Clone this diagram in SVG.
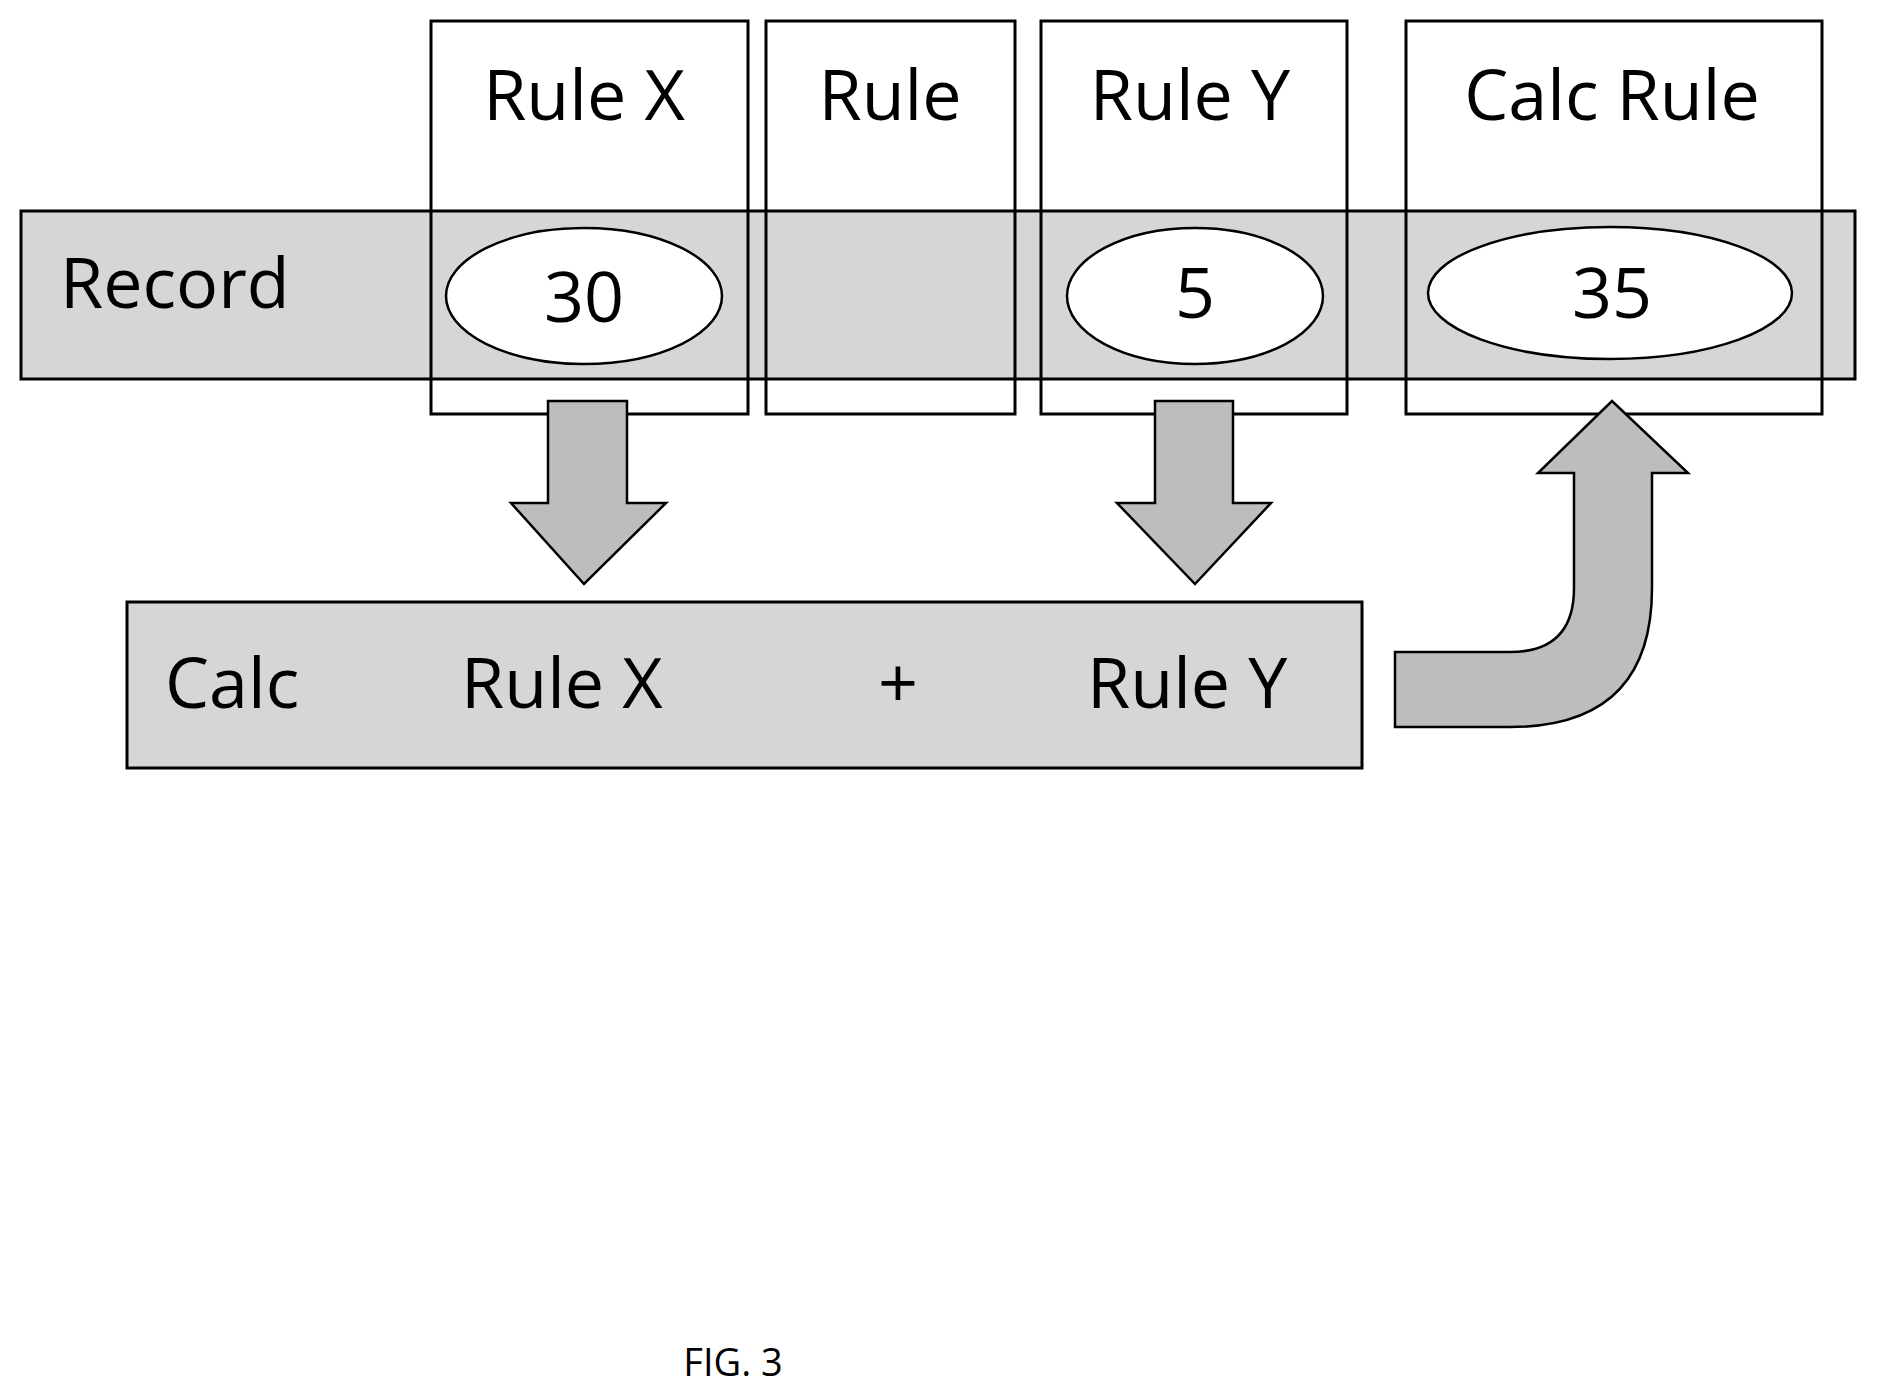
<svg xmlns="http://www.w3.org/2000/svg" width="1877" height="1399" viewBox="0 0 1877 1399">
<style>
.box{fill:none;stroke:#000;stroke-width:3}
.band{fill:#d6d6d6;stroke:#000;stroke-width:3}
.ell{fill:#fff;stroke:#000;stroke-width:2.5}
.arr{fill:#bdbdbd;stroke:#000;stroke-width:2.5}
text{font-family:"Open Sans","Liberation Sans",sans-serif;font-size:70px;fill:#000}
.c{text-anchor:middle}
</style>
<rect x="0" y="0" width="1877" height="1399" fill="#fff"/>
<g id="record"><rect class="band" x="21" y="211" width="1834" height="168"/><text x="60" y="308">Record</text></g>
<g id="ruleX"><rect class="box" x="431" y="21" width="317" height="393"/><text class="c" x="584" y="120">Rule X</text></g>
<g id="rule"><rect class="box" x="766" y="21" width="249" height="393"/><text class="c" x="890" y="120">Rule</text></g>
<g id="ruleY"><rect class="box" x="1041" y="21" width="306" height="393"/><text class="c" x="1190" y="120">Rule Y</text></g>
<g id="calcRule"><rect class="box" x="1406" y="21" width="416" height="393"/><text class="c" x="1612" y="120">Calc Rule</text></g>
<g id="v30"><ellipse class="ell" cx="584" cy="296" rx="138" ry="68"/><text class="c" x="584" y="322">30</text></g>
<g id="v5"><ellipse class="ell" cx="1195" cy="296" rx="128" ry="68"/><text class="c" x="1195" y="318">5</text></g>
<g id="v35"><ellipse class="ell" cx="1610" cy="293" rx="182" ry="66"/><text class="c" x="1612" y="318">35</text></g>
<g id="calc"><rect class="band" x="127" y="602" width="1235" height="166"/>
<text x="165" y="708">Calc</text><text x="461" y="708">Rule X</text><text class="c" x="898" y="708">+</text><text x="1087" y="708">Rule Y</text></g>
<g id="connectors">
<path class="arr" d="M548,401 H627 V503 H666 L584,584 L511,503 H548 Z"/>
<path class="arr" d="M1155,401 H1233 V503 H1271 L1195,584 L1117,503 H1155 Z"/>
<path class="arr" d="M1395,652 L1510,652 Q1574,652 1574,588 L1574,473 L1538,473 L1612,401 L1688,473 L1652,473 L1652,588 Q1652,727 1510,727 L1395,727 Z"/>
</g>
<text class="c" x="733" y="1376" style="font-size:38px">FIG. 3</text>
</svg>
